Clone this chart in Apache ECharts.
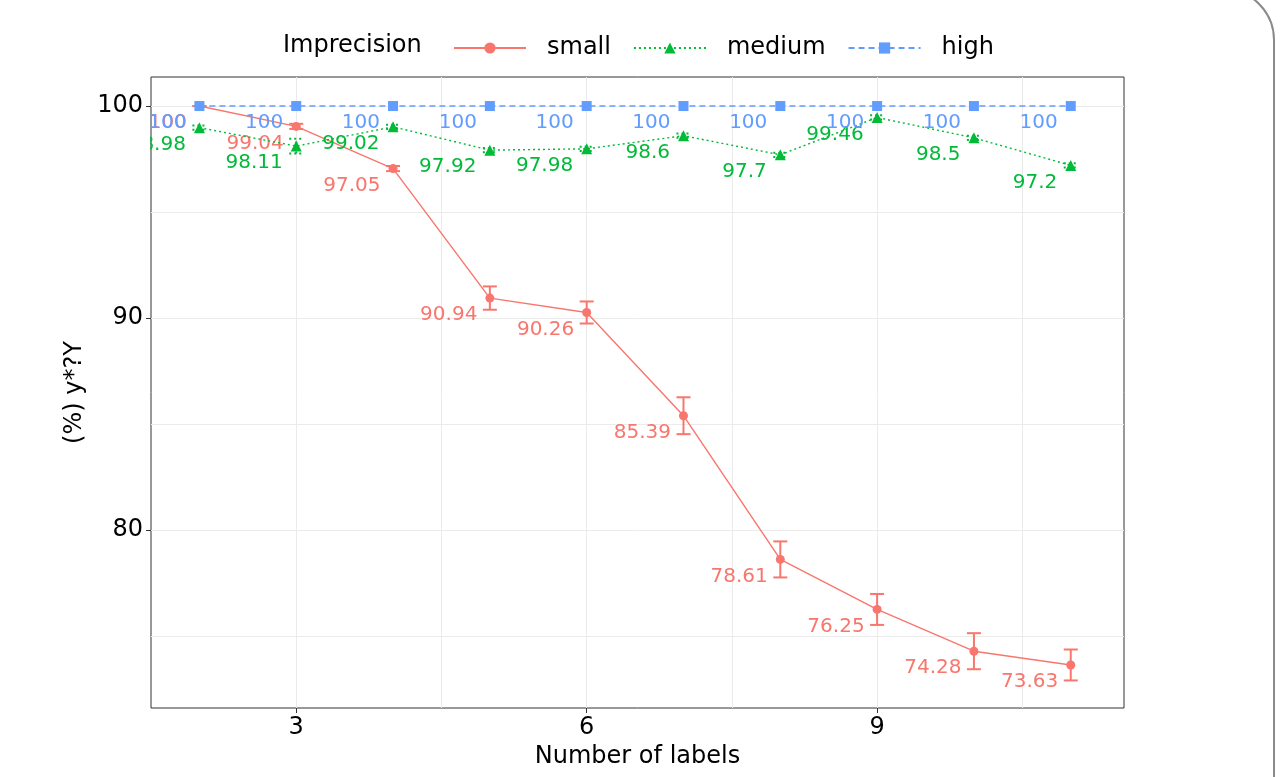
<!DOCTYPE html>
<html>
<head>
<meta charset="UTF-8">
<title>Imprecision vs number of labels</title>
<script src="https://cdn.jsdelivr.net/npm/echarts@6/dist/echarts.min.js"></script>
<style>
  html, body { margin: 0; padding: 0; background: #fff; overflow: hidden; }
  #main { width: 1280px; height: 777px; }
  /* rounded frame on the right edge of the page */
  #frame { position: absolute; left: -200px; top: -12px; width: 1471px; height: 900px;
           border: 2px solid #8a8a8a; border-radius: 52px; pointer-events: none; }
</style>
</head>
<body>
<div id="main"></div>
<div id="frame"></div>
<script>
    // number of labels
    var labelCounts = [2, 3, 4, 5, 6, 7, 8, 9, 10, 11];
    // accuracy per imprecision level (%), with error bar half widths
    var smallAcc = [100, 99.04, 97.05, 90.94, 90.26, 85.39, 78.61, 76.25, 74.28, 73.63];
    var smallErr = [0, 0.12, 0.12, 0.55, 0.52, 0.87, 0.85, 0.73, 0.85, 0.73];
    var mediumAcc = [98.98, 98.11, 99.02, 97.92, 97.98, 98.6, 97.7, 99.46, 98.5, 97.2];
    var mediumErr = [0.1, 0.35, 0.1, 0.1, 0.1, 0.1, 0.1, 0.1, 0.1, 0.1];
    var highAcc = [100, 100, 100, 100, 100, 100, 100, 100, 100, 100];
    // ticks and grid
    var xTicks = [3, 6, 9];
    var yTicks = [80, 90, 100];
    var xGrid = [3, 4.5, 6, 7.5, 9, 10.5];
    var yGrid = [75, 80, 85, 90, 95, 100];

    var FONT = 'DejaVu Sans';
    var RED = '#F8766D', GREEN = '#00BA38', BLUE = '#619CFF';

    function points(acc) {
        return labelCounts.map(function (x, i) { return [x, acc[i]]; });
    }
    function bars(acc, err) {
        return labelCounts.map(function (x, i) { return [x, acc[i] - err[i], acc[i] + err[i]]; });
    }
    function errorBarRenderer(color, dash) {
        return function (params, api) {
            var x = api.value(0);
            var lo = api.coord([x, api.value(1)]);
            var hi = api.coord([x, api.value(2)]);
            var hw = 7;
            var style = { stroke: color, lineWidth: 2, lineDash: dash, fill: null };
            return {
                type: 'group',
                children: [
                    { type: 'line', shape: { x1: lo[0], y1: lo[1], x2: hi[0], y2: hi[1] }, style: style },
                    { type: 'line', shape: { x1: hi[0] - hw, y1: hi[1], x2: hi[0] + hw, y2: hi[1] }, style: style },
                    { type: 'line', shape: { x1: lo[0] - hw, y1: lo[1], x2: lo[0] + hw, y2: lo[1] }, style: style }
                ]
            };
        };
    }
    function pointLabel(color) {
        return {
            show: true,
            position: 'left',
            distance: 8,
            offset: [0, 17],
            color: color,
            fontFamily: FONT,
            fontSize: 20,
            formatter: function (p) { return String(p.value[1]); }
        };
    }

    var myChart = echarts.init(document.getElementById('main'), null, { renderer: 'canvas' });

    var option = {
        animation: false,
        backgroundColor: '#fff',
        textStyle: { fontFamily: FONT },
        grid: {
            left: 151, right: 156, top: 77, bottom: 69,
            show: true, borderColor: '#333', borderWidth: 1, backgroundColor: '#fff'
        },
        legend: {
            data: ['small', 'medium', 'high'],
            left: 448, top: 31,
            itemWidth: 72, itemHeight: 14, itemGap: 22,
            textStyle: { fontFamily: FONT, fontSize: 24, color: '#000', padding: [0, 0, 0, 16] }
        },
        graphic: [
            { type: 'text', left: 283, top: 34, z: 100,
              style: { text: 'Imprecision', fontFamily: FONT, fontSize: 24, fill: '#000' } },
            // clip labels that spill past the left panel border
            { type: 'rect', z: 100, shape: { x: 96, y: 119, width: 54, height: 45 },
              style: { fill: '#fff' } }
        ],
        xAxis: {
            type: 'value', min: 1.5, max: 11.55,
            name: 'Number of labels', nameLocation: 'middle', nameGap: 37,
            nameTextStyle: { fontFamily: FONT, fontSize: 24, color: '#000' },
            axisLine: { show: false },
            axisTick: { show: true, length: 5, customValues: xTicks, lineStyle: { color: '#333' } },
            axisLabel: { customValues: xTicks, fontFamily: FONT, fontSize: 24, color: '#000', margin: 8 },
            splitLine: { show: false }
        },
        yAxis: {
            type: 'value', min: 71.6, max: 101.37,
            name: '(%) y*?Y', nameLocation: 'middle', nameRotate: 90, nameGap: 62,
            nameTextStyle: { fontFamily: FONT, fontSize: 24, color: '#000' },
            axisLine: { show: false },
            axisTick: { show: true, length: 5, customValues: yTicks, lineStyle: { color: '#333' } },
            axisLabel: { customValues: yTicks, fontFamily: FONT, fontSize: 24, color: '#000', margin: 8 },
            splitLine: { show: false }
        },
        series: [
            {
                name: 'grid', type: 'line', data: [], silent: true, z: 1,
                markLine: {
                    silent: true, symbol: 'none', animation: false, z: 1,
                    label: { show: false },
                    lineStyle: { color: '#EBEBEB', width: 1, type: 'solid' },
                    data: xGrid.map(function (v) { return { xAxis: v }; })
                        .concat(yGrid.map(function (v) { return { yAxis: v }; }))
                }
            },
            {
                name: 'small-err', type: 'custom', z: 3,
                renderItem: errorBarRenderer(RED, null),
                encode: { x: 0, y: [1, 2] },
                data: bars(smallAcc, smallErr)
            },
            {
                name: 'small', type: 'line', z: 4,
                data: points(smallAcc),
                symbol: 'circle', symbolSize: 9,
                itemStyle: { color: RED },
                lineStyle: { color: RED, width: 1.4, type: 'solid' },
                label: pointLabel(RED)
            },
            {
                name: 'medium-err', type: 'custom', z: 5,
                renderItem: errorBarRenderer(GREEN, [2, 3]),
                encode: { x: 0, y: [1, 2] },
                data: bars(mediumAcc, mediumErr)
            },
            {
                name: 'medium', type: 'line', z: 6,
                data: points(mediumAcc),
                symbol: 'triangle', symbolSize: 11,
                itemStyle: { color: GREEN },
                lineStyle: { color: GREEN, width: 1.4, type: [2, 3] },
                label: pointLabel(GREEN)
            },
            {
                name: 'high', type: 'line', z: 7,
                data: points(highAcc),
                symbol: 'rect', symbolSize: 10,
                itemStyle: { color: BLUE },
                lineStyle: { color: BLUE, width: 1.4, type: [6, 4] },
                label: pointLabel(BLUE)
            }
        ]
    };
    myChart.setOption(option);
</script>
</body>
</html>
